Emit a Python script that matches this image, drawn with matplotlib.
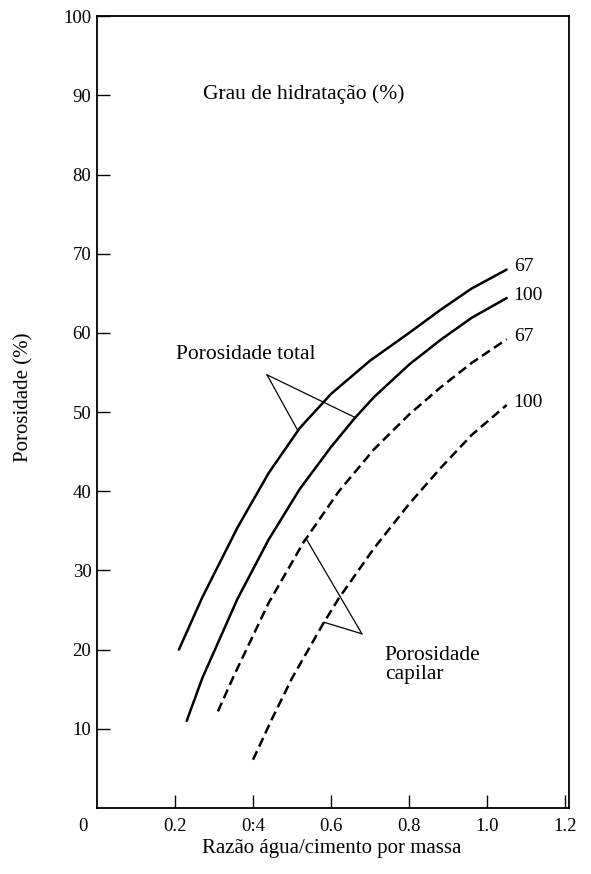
import matplotlib
matplotlib.use("Agg")
import matplotlib.pyplot as plt
import numpy as np

plt.rcParams["font.family"] = ["Liberation Serif", "DejaVu Serif"]

# Total porosity curves (solid) for 67 % and 100 % degree of hydration
total_67_x = [0.21, 0.27, 0.36, 0.44, 0.52, 0.60, 0.70, 0.80, 0.88, 0.96, 1.05]
total_67_y = [20.0, 26.6, 35.4, 42.3, 48.0, 52.3, 56.5, 60.0, 62.9, 65.6, 68.0]

total_100_x = [0.23, 0.27, 0.36, 0.44, 0.52, 0.60, 0.66, 0.71, 0.80, 0.88, 0.96, 1.05]
total_100_y = [11.0, 16.4, 26.4, 33.9, 40.3, 45.6, 49.2, 51.9, 56.0, 59.1, 61.9, 64.4]

# Capillary porosity curves (dashed)
cap_67_x = [0.31, 0.35, 0.44, 0.53, 0.62, 0.71, 0.80, 0.88, 0.96, 1.05]
cap_67_y = [12.2, 16.6, 25.9, 33.6, 40.0, 45.3, 49.7, 53.1, 56.2, 59.2]

cap_100_x = [0.40, 0.45, 0.50, 0.58, 0.62, 0.71, 0.80, 0.88, 0.96, 1.05]
cap_100_y = [6.1, 11.4, 16.4, 23.3, 26.5, 32.8, 38.4, 42.9, 47.1, 50.9]

curve_labels = ["67", "100", "67", "100"]

x_ticks = [0.2, 0.4, 0.6, 0.8, 1.0, 1.2]
x_tick_labels = ["0.2", "0:4", "0.6", "0.8", "1.0", "1.2"]
y_ticks = [10, 20, 30, 40, 50, 60, 70, 80, 90, 100]

fig = plt.figure(figsize=(5.91, 8.74), dpi=100)
ax = fig.add_axes([0.164, 0.0755, 0.799, 0.906])

lw = 1.8
ax.plot(total_67_x, total_67_y, color="black", lw=lw, solid_capstyle="round",
        solid_joinstyle="round")
ax.plot(total_100_x, total_100_y, color="black", lw=lw, solid_capstyle="round",
        solid_joinstyle="round")
ax.plot(cap_67_x, cap_67_y, color="black", lw=lw, dashes=(3.8, 2.0))
ax.plot(cap_100_x, cap_100_y, color="black", lw=lw, dashes=(3.8, 2.0))

# Hydration-degree labels at the right-hand end of each curve
ends = [(total_67_x[-1], total_67_y[-1]), (total_100_x[-1], total_100_y[-1]),
        (cap_67_x[-1], cap_67_y[-1]), (cap_100_x[-1], cap_100_y[-1])]
for (ex, ey), lab in zip(ends, curve_labels):
    ax.annotate(lab, xy=(ex, ey), xytext=(5, 2), textcoords="offset points",
                ha="left", va="center", fontsize=14)

# Leader lines joining each group label to its two curves
thin = 0.9
apex_t = (0.436, 54.7)
for cx, xs, ys in [(0.515, total_67_x, total_67_y), (0.662, total_100_x, total_100_y)]:
    ax.plot([apex_t[0], cx], [apex_t[1], np.interp(cx, xs, ys)], color="black", lw=thin)
apex_c = (0.679, 22.0)
for cx, xs, ys in [(0.536, cap_67_x, cap_67_y), (0.582, cap_100_x, cap_100_y)]:
    ax.plot([apex_c[0], cx], [apex_c[1], np.interp(cx, xs, ys)], color="black", lw=thin)

ax.text(0.203, 57.3, "Porosidade total", ha="left", va="center", fontsize=15.5)
ax.text(0.738, 18.0, "Porosidade\ncapilar", ha="left", va="center",
        fontsize=15.5, linespacing=1.0)
ax.text(0.272, 90.2, "Grau de hidratação (%)", ha="left", va="center", fontsize=15.5)

ax.set_xlim(0, 1.21)
ax.set_ylim(0, 100)
ax.set_xticks(x_ticks)
ax.set_xticklabels(x_tick_labels)
ax.set_yticks(y_ticks)
ax.tick_params(direction="in", length=9.5, width=1.0, labelsize=13.5, colors="black")
ax.tick_params(axis="y", pad=4)
ax.tick_params(axis="x", pad=7)
ax.annotate("0", xy=(0, 0), xycoords="data", xytext=(-10, -13.5),
            textcoords="offset points", ha="center", va="center", fontsize=13.5)
for s in ax.spines.values():
    s.set_linewidth(1.3)

ax.set_xlabel("Razão água/cimento por massa", fontsize=15)
ax.xaxis.set_label_coords(0.497, -0.0505)
ax.xaxis.label.set_va("center")
ax.set_ylabel("Porosidade (%)", fontsize=15)
ax.yaxis.set_label_coords(-0.155, 0.519)
ax.yaxis.label.set_va("center")

fig.savefig("out.png", dpi=100)
